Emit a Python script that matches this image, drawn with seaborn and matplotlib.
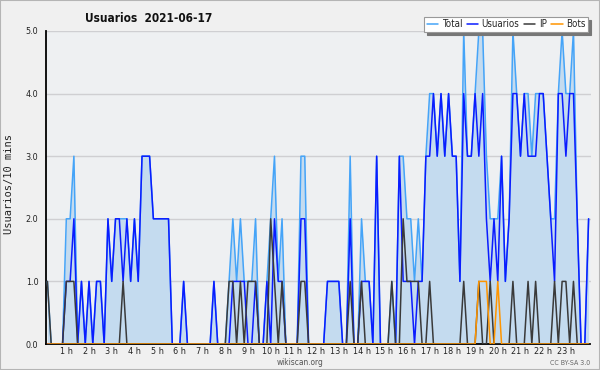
import numpy as np
import pandas as pd
import matplotlib
matplotlib.use("Agg")
import matplotlib.pyplot as plt
from matplotlib import font_manager
from matplotlib.lines import Line2D
from matplotlib.ticker import MultipleLocator, FixedLocator
import seaborn as sns

# ---- data: one value per 10-minute slot (144 slots) ----
usuarios = [0,0,0,0,0, 1,1,2,0,1, 0,1,0,1,1, 0,2,1,2,2, 1,2,1,2,1, 3,3,3,2,2,
            2,2,2,0,0, 0,1,0,0,0, 0,0,0,0,1, 0,0,0,0,1, 1,1,1,0,0, 1,0,0,1,0,
            2,1,1,0,0, 0,0,2,2,0, 0,0,0,0,1, 1,1,1,0,0, 2,0,0,1,1, 1,0,3,0,0,
            0,0,0,3,1, 1,1,0,1,1, 3,3,4,3,4, 3,4,3,3,1, 4,3,3,4,3, 4,2,1,2,1,
            3,1,2,4,4, 3,4,3,3,3, 4,4,3,2,1, 4,4,3,4,4, 2,0,0,2]
ip = [1,0,0,0,0, 1,1,1,0,0, 0,0,0,0,0, 0,0,0,0,0, 1,0,0,0,0, 0,0,0,0,0,
      0,0,0,0,0, 0,0,0,0,0, 0,0,0,0,0, 0,0,0,1,1, 0,1,0,1,1, 1,0,0,0,2,
      1,0,1,0,0, 0,0,1,1,0, 0,0,0,0,0, 0,0,0,0,0, 1,0,0,1,0, 0,0,0,0,0,
      0,1,0,0,2, 1,1,1,1,0, 0,1,0,0,0, 0,0,0,0,0, 1,0,0,0,1, 0,0,1,0,0,
      0,0,0,1,0, 0,0,1,0,1, 0,0,0,0,1, 0,1,1,0,1, 0,0,0,0]
bots = [0]*114 + [1,1,1,0,0,1] + [0]*24
total = [1,0,0,0,0, 2,2,3,0,1, 0,1,0,1,1, 0,2,1,2,2, 2,2,1,2,1, 3,3,3,2,2,
         2,2,2,0,0, 0,1,0,0,0, 0,0,0,0,1, 0,0,0,1,2, 1,2,1,1,1, 2,0,0,1,2,
         3,1,2,0,0, 0,0,3,3,0, 0,0,0,0,1, 1,1,1,0,0, 3,0,0,2,1, 1,0,3,0,0,
         0,1,0,3,3, 2,2,1,2,1, 3,4,4,3,4, 3,4,3,3,1, 5,3,3,4,5, 5,3,2,2,2,
         3,1,2,5,4, 3,4,4,3,4, 4,4,3,2,2, 4,5,4,4,5, 2,0,0,2]
hour_labels = ["1 h","2 h","3 h","4 h","5 h","6 h","7 h","8 h","9 h","10 h","11 h","12 h",
               "13 h","14 h","15 h","16 h","17 h","18 h","19 h","20 h","21 h","22 h","23 h"]
series_names = ["Total", "Usuarios", "IP", "Bots"]
series_colors = ["#45a4f8", "#0a1cff", "#3a3a3a", "#ff9500"]

slots = list(range(len(usuarios)))
df = pd.DataFrame({"slot": slots, "Total": total, "Usuarios": usuarios,
                   "IP": ip, "Bots": bots})

sns.set_style("white")

# font choice: prefer a condensed sans
def pick_font():
    try:
        p = font_manager.findfont(font_manager.FontProperties(family="DejaVu Sans", stretch="condensed"),
                                  fallback_to_default=False)
        if "Condensed" in p:
            return ("DejaVu Sans", "condensed")
    except Exception:
        pass
    names = {f.name for f in font_manager.fontManager.ttflist}
    if "Liberation Sans Narrow" in names:
        return ("Liberation Sans Narrow", "normal")
    return ("DejaVu Sans", "normal")

fam, stretch = pick_font()
plt.rcParams["font.family"] = [fam, "DejaVu Sans"]
plt.rcParams["font.stretch"] = stretch

fig = plt.figure(figsize=(6.0, 3.7), dpi=100, facecolor="#f0f0f0")
ax = fig.add_axes([46/600, 26/370, (590.5-46)/600, (344-31)/370])
ax.set_facecolor("#eef0f2")

# area + lines
ax.fill_between(df["slot"], df["Total"], 0, color="#c4dbef", lw=0, zorder=1)
for name, col in zip(series_names, series_colors):
    sns.lineplot(data=df, x="slot", y=name, color=col, lw=1.1, ax=ax, zorder=3,
                 legend=False)

ax.set_xlim(-0.37, 143.5)
ax.set_ylim(0, 5)

# grid
ax.yaxis.set_major_locator(MultipleLocator(1))
ax.yaxis.set_minor_locator(MultipleLocator(0.25))
ax.grid(axis="y", which="major", color="#cfcfd2", lw=1.0, zorder=0)
ax.grid(axis="x", visible=False)
ax.set_axisbelow(True)

ax.set_yticks([0, 1, 2, 3, 4, 5])
ax.set_yticklabels(["0.0", "1.0", "2.0", "3.0", "4.0", "5.0"])
ax.xaxis.set_major_locator(FixedLocator([6*h - 1 for h in range(1, 24)]))
ax.set_xticklabels(hour_labels)
ax.xaxis.set_minor_locator(MultipleLocator(1))

ax.tick_params(axis="both", which="major", labelsize=6.5, colors="#222222",
               length=4, width=1, direction="out", pad=1.5)
ax.tick_params(axis="both", which="minor", length=2.5, width=1, direction="out",
               colors="#111111")
ax.tick_params(axis="x", which="major", length=3, pad=-1)
ax.tick_params(axis="x", which="minor", length=2.5)

for s in ["top", "right"]:
    ax.spines[s].set_visible(False)
for s in ["left", "bottom"]:
    ax.spines[s].set_color("#000000")
    ax.spines[s].set_linewidth(1.3)

ax.set_xlabel("")
ax.set_ylabel("")

fig.text(85/600, 1 - 18/370, "Usuarios  2021-06-17", fontsize=8.5, fontweight="bold",
         ha="left", va="center", color="#111111")
fig.text(9/600, 1 - 184/370, "Usuarios/10 mins", rotation=90, fontsize=7.5,
         family=["DejaVu Sans Mono", "DejaVu Sans"],
         ha="center", va="center", color="#222222")
fig.text(300/600, 1 - 362.5/370, "wikiscan.org", fontsize=6, ha="center", va="center",
         color="#555555")
fig.text(590/600, 1 - 363/370, "CC BY-SA 3.0", fontsize=5, ha="right", va="center",
         color="#666666")

handles = [Line2D([0], [0], color=c, lw=1.1) for c in series_colors]
leg = fig.legend(handles, series_names, loc="upper right",
                 bbox_to_anchor=(588/600, 1 - 17/370), ncol=4, fontsize=7,
                 frameon=True, fancybox=False, shadow={"color": "#777777", "alpha": 1},
                 handlelength=1.2, handletextpad=0.35, columnspacing=0.45,
                 borderpad=0.25, borderaxespad=0)
leg.get_frame().set_edgecolor("#999999")
leg.get_frame().set_linewidth(0.8)
leg.get_frame().set_facecolor("white")

# figure border
fig.patches.append(matplotlib.patches.Rectangle((0, 0), 1, 1, transform=fig.transFigure,
                   fill=False, edgecolor="#b5b5b5", lw=1.5))

fig.savefig("out.png", dpi=100, facecolor=fig.get_facecolor())
